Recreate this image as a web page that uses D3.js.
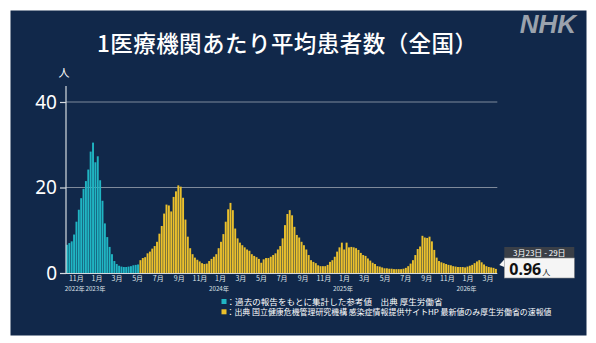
<!DOCTYPE html>
<html>
<head>
<meta charset="utf-8">
<script src="https://cdn.jsdelivr.net/npm/d3@7"></script>
<style>
  body { margin: 0; background: #fff; }
  text { font-family: "Noto Sans CJK JP", "Noto Sans", sans-serif; }
</style>
</head>
<body>
<div id="chart"></div>
<script>
// Weekly values, week of Oct 3 2022 onward.
// Reference values (past reports), up to the week of May 1 2023.
var refValues = [6.6, 7.0, 7.4, 9.0, 12.0, 14.8, 17.5, 19.7, 21.5, 24.2, 28.4, 30.5,
  25.9, 27.3, 21.7, 16.9, 11.6, 8.4, 6.1, 4.4, 2.8, 2.1, 1.7, 1.5, 1.4, 1.4, 1.5,
  1.6, 1.8, 1.9, 2.0];
// Sentinel surveillance values, week of May 8 2023 to week of Mar 23 2026.
var sentinelValues = [3.0, 3.5, 3.7, 4.6, 5.0, 5.7, 6.3, 7.3, 9.2, 11.0, 13.9, 16.0,
  15.8, 14.4, 17.8, 19.1, 20.5, 20.2, 17.6, 12.5, 8.5,
  5.8, 4.4, 3.6, 3.1, 2.7, 2.3, 2.1, 2.2, 2.8, 3.3, 3.8, 4.4, 5.8, 7.3, 9.1, 12.0,
  14.9, 16.4, 14.7, 10.4, 8.1, 7.1, 6.5, 6.0, 5.5, 5.2, 4.4, 4.0, 3.7, 3.3, 2.4,
  3.2, 3.5, 3.5, 3.8, 4.2, 4.6, 5.5, 6.3, 8.1, 11.2, 13.8, 14.7, 13.5, 10.8, 8.9,
  8.3, 7.3, 6.5, 5.5, 4.2, 3.0, 2.6, 2.3, 1.8, 1.6, 1.6, 1.6, 1.9, 2.6, 3.0, 3.8,
  5.0, 6.0, 7.1, 5.5, 7.1, 6.0, 6.1, 6.0, 5.8, 5.4, 4.7, 4.2, 4.0, 3.4, 2.9, 2.4,
  2.1, 1.6, 1.5, 1.3, 1.1, 1.1,
  1.0, 1.0, 0.9, 0.9,
  0.9, 0.9, 1.0, 1.2, 1.6, 2.2, 3.0, 4.2, 5.6, 6.2, 8.7, 8.3, 8.2, 8.5, 7.4, 5.4,
  3.6, 2.8, 2.5, 2.3, 2.1, 1.9, 1.8, 1.6, 1.5, 1.4, 1.4, 1.4, 1.3, 1.5, 1.7, 1.9,
  2.3, 2.7, 3.0, 2.5, 2.0, 1.6, 1.4, 1.3, 1.2, 0.96];

var firstWeek = new Date(2022, 9, 3);
var yTicks = [0, 20, 40];
var gridTicks = [20, 40];
var yearTicks = [new Date(2022, 10, 1), new Date(2023, 0, 1), new Date(2024, 0, 1),
  new Date(2025, 0, 1), new Date(2026, 0, 1)];
var yearLabels = ['2022年', '2023年', '2024年', '2025年', '2026年'];

var title = '1医療機関あたり平均患者数（全国）';
var legendLabels = ['：過去の報告をもとに集計した参考値　出典 厚生労働省',
  '：出典 国立健康危機管理研究機構 感染症情報提供サイトHP 最新値のみ厚生労働省の速報値'];
var latestRange = '3月23日 - 29日';
var latestValue = '0.96';

// Palette.
var BG = '#11284a';
var SERIES_COLORS = ['#20b5c3', '#ebc02c'];

var WIDTH = 596, HEIGHT = 343;
// Rendered widths of the two legend lines.
var LEGEND_WIDTHS = [216, 325];

function main() {
  var items = refValues.map(function(v) { return {value: v, series: 0}; })
    .concat(sentinelValues.map(function(v) { return {value: v, series: 1}; }));
  items.forEach(function(d, i) {
    d.start = d3.timeDay.offset(firstWeek, 7 * i);
    d.end = d3.timeDay.offset(firstWeek, 7 * (i + 1));
  });

  var svg = d3.select('#chart').append('svg')
    .attr('width', WIDTH)
    .attr('height', HEIGHT);

  svg.append('rect')
    .attr('x', 10.5).attr('y', 10.5)
    .attr('width', 576).attr('height', 325)
    .attr('fill', BG);

  var x = d3.scaleTime()
    .domain([firstWeek, items[items.length - 1].end])
    .range([66, 497.3]);
  var y = d3.scaleLinear().domain([0, 40]).range([273, 102]);

  // Title and logo.
  svg.append('text')
    .attr('x', 287).attr('y', 52)
    .attr('text-anchor', 'middle')
    .attr('fill', '#fff')
    .attr('font-size', 22.5)
    .attr('font-weight', 500)
    .attr('textLength', 380)
    .attr('lengthAdjust', 'spacing')
    .text(title);
  svg.append('text')
    .attr('x', 576).attr('y', 33)
    .attr('text-anchor', 'end')
    .attr('fill', '#9aa2ad')
    .attr('font-size', 26)
    .attr('font-weight', 'bold')
    .attr('font-style', 'italic')
    .style('font-family', '"Liberation Sans", Arial, sans-serif')
    .text('NHK');

  // Gridlines.
  svg.append('g').selectAll('line')
    .data(gridTicks)
  .enter().append('line')
    .attr('x1', 66).attr('x2', 497.3)
    .attr('y1', function(d) { return y(d); })
    .attr('y2', function(d) { return y(d); })
    .attr('stroke', '#7f8a9b')
    .attr('stroke-width', 1.2);

  // Bars.
  svg.append('g').selectAll('rect')
    .data(items)
  .enter().append('rect')
    .attr('x', function(d) { return x(d.start); })
    .attr('width', function(d) { return x(d.end) - x(d.start) - 0.45; })
    .attr('y', function(d) { return y(d.value); })
    .attr('height', function(d) { return y(0) - y(d.value); })
    .attr('fill', function(d) { return SERIES_COLORS[d.series]; });

  // Y axis.
  var yAxis = d3.axisLeft(y).tickValues(yTicks).tickSize(6).tickPadding(3);
  var gy = svg.append('g').attr('transform', 'translate(66,0)').call(yAxis);
  gy.select('.domain').remove();
  gy.selectAll('line').attr('stroke', '#d6dae0').attr('stroke-width', 1.2);
  gy.selectAll('text').attr('fill', '#fff').attr('font-size', 19)
    .style('font-family', '"Noto Sans", sans-serif');
  svg.append('line')
    .attr('x1', 66).attr('x2', 66).attr('y1', 86).attr('y2', 273.5)
    .attr('stroke', '#d6dae0').attr('stroke-width', 1.2);
  svg.append('line')
    .attr('x1', 60).attr('x2', 497.3).attr('y1', 273.5).attr('y2', 273.5)
    .attr('stroke', '#d6dae0').attr('stroke-width', 1.2);
  svg.append('text')
    .attr('x', 64).attr('y', 77)
    .attr('text-anchor', 'middle')
    .attr('fill', '#fff')
    .attr('font-size', 11)
    .text('人');

  // X axis: months and years.
  var xAxis = d3.axisBottom(x)
    .ticks(d3.timeMonth.every(2))
    .tickSize(0)
    .tickPadding(2)
    .tickFormat(function(d) { return (d.getMonth() + 1) + '月'; });
  var gx = svg.append('g').attr('transform', 'translate(0,274)').call(xAxis);
  gx.select('.domain').remove();
  gx.selectAll('text').attr('fill', '#dfe3e8').attr('font-size', 7)
    .style('font-family', '"Noto Sans CJK JP", sans-serif');

  svg.append('g').selectAll('text')
    .data(yearTicks)
  .enter().append('text')
    .attr('x', function(d) { return x(d) - 1; })
    .attr('y', 290.5)
    .attr('text-anchor', 'middle')
    .attr('fill', '#dfe3e8')
    .attr('font-size', 6.2)
    .text(function(d, i) { return yearLabels[i]; });

  // Latest value callout.
  var last = items[items.length - 1];
  var cx = x(last.end) + 7;
  svg.append('rect')
    .attr('x', cx).attr('y', 247).attr('width', 70).attr('height', 11)
    .attr('fill', '#3a3f47');
  svg.append('text')
    .attr('x', cx + 35).attr('y', 255.8)
    .attr('text-anchor', 'middle')
    .attr('fill', '#fff')
    .attr('font-size', 8)
    .text(latestRange);
  svg.append('rect')
    .attr('x', cx).attr('y', 258).attr('width', 70).attr('height', 20)
    .attr('fill', '#f5f5f5')
    .attr('stroke', '#8c8c8c').attr('stroke-width', 0.6);
  svg.append('path')
    .attr('d', 'M' + (cx - 5) + ',265L' + cx + ',259.5L' + cx + ',267Z')
    .attr('fill', '#f5f5f5');
  var val = svg.append('text')
    .attr('x', cx + 5).attr('y', 274.5)
    .attr('fill', '#111');
  val.append('tspan').attr('font-size', 16).attr('font-weight', 'bold')
    .style('font-family', '"Noto Sans", sans-serif')
    .text(latestValue);
  val.append('tspan').attr('font-size', 8).attr('dx', 1).text('人');

  // Legend.
  var legend = svg.append('g').selectAll('g')
    .data(legendLabels)
  .enter().append('g')
    .attr('transform', function(d, i) { return 'translate(221.5,' + (299 + i * 10.3) + ')'; });
  legend.append('rect')
    .attr('width', 5).attr('height', 5)
    .attr('fill', function(d, i) { return SERIES_COLORS[i]; });
  legend.append('text')
    .attr('x', 5).attr('y', 5.5)
    .attr('fill', '#fff')
    .attr('font-size', 7.9)
    .attr('textLength', function(d, i) { return LEGEND_WIDTHS[i]; })
    .attr('lengthAdjust', 'spacingAndGlyphs')
    .text(function(d) { return d; });
}

main();
</script>
</body>
</html>
